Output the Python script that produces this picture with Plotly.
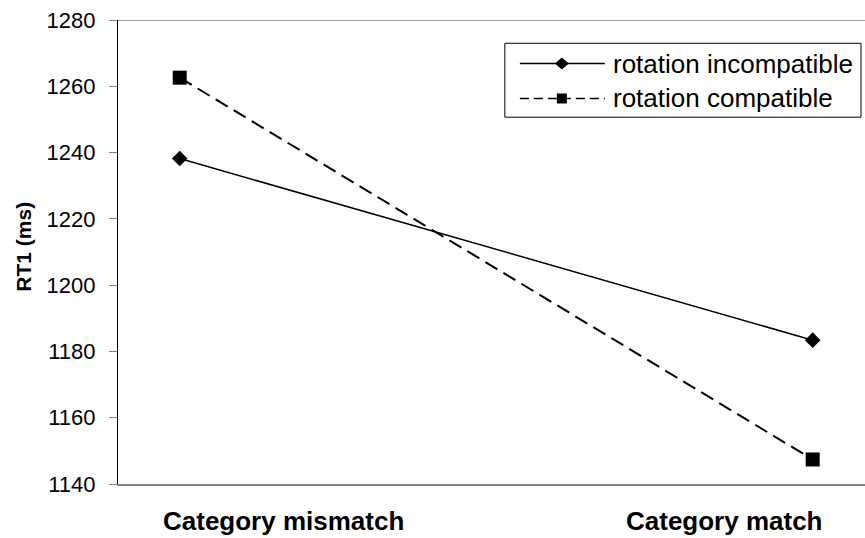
import plotly.graph_objects as go

# ---- data ----
categories = ["Category mismatch", "Category match"]
series_names = ["rotation incompatible", "rotation compatible"]
rt_incompatible = [1238.2, 1183.4]
rt_compatible = [1262.6, 1147.4]
y_ticks = [1140, 1160, 1180, 1200, 1220, 1240, 1260, 1280]

W, H = 865, 538
L, T, B = 118.3, 19.7, 484.3
PW, PH = W - L, B - T


def px(x):
    return (x - L) / PW


def py(y):
    return (B - y) / PH


FONT = "Arial, Liberation Sans, sans-serif"
xi = list(range(len(categories)))

fig = go.Figure()
fig.add_trace(go.Scatter(
    x=xi, y=rt_incompatible, name=series_names[0], mode="lines+markers",
    line=dict(color="black", width=1.5),
    marker=dict(symbol="diamond", size=12, color="black"),
    showlegend=False,
))
fig.add_trace(go.Scatter(
    x=xi, y=rt_compatible, name=series_names[1], mode="lines+markers",
    line=dict(color="black", width=2, dash="14px,7px"),
    marker=dict(symbol="square", size=14, color="black"),
    showlegend=False,
))

# x positions: category 0 at pixel 180, category 1 at 812.7
scale = 812.7 - 180
x0 = -(180 - L) / scale
x1 = x0 + PW / scale

shapes = []
# top line at 1280
shapes.append(dict(type="line", xref="paper", yref="y", x0=0, x1=1, y0=1280, y1=1280,
                   line=dict(color="#808080", width=1.3), layer="below"))
# custom legend box
shapes.append(dict(type="rect", xref="paper", yref="paper",
                   x0=px(505), x1=px(861), y0=py(117), y1=py(43),
                   line=dict(color="black", width=1), fillcolor="white"))
rows = [63.3, 98.3]
shapes.append(dict(type="line", xref="paper", yref="paper", x0=px(520), x1=px(605),
                   y0=py(rows[0]), y1=py(rows[0]), line=dict(color="black", width=1.5)))
shapes.append(dict(type="line", xref="paper", yref="paper", x0=px(520), x1=px(605),
                   y0=py(rows[1]), y1=py(rows[1]), line=dict(color="black", width=1.5, dash="9px,5px")))
shapes.append(dict(type="path", xref="paper", yref="paper", xsizemode="pixel", ysizemode="pixel",
                   xanchor=px(562), yanchor=py(rows[0]), path="M-7,0L0,6L7,0L0,-6Z",
                   fillcolor="black", line=dict(color="black", width=0)))
shapes.append(dict(type="path", xref="paper", yref="paper", xsizemode="pixel", ysizemode="pixel",
                   xanchor=px(562), yanchor=py(rows[1]), path="M-5,-5L5,-5L5,5L-5,5Z",
                   fillcolor="black", line=dict(color="black", width=0)))

annotations = []
for name, r in zip(series_names, rows):
    annotations.append(dict(text=name, xref="paper", yref="paper", x=px(611), y=py(r),
                            xanchor="left", yanchor="middle", showarrow=False,
                            font=dict(family=FONT, size=26, color="black")))
label_centers = [284, 725]
for cat, cx in zip(categories, label_centers):
    annotations.append(dict(text="<b>%s</b>" % cat, xref="paper", yref="paper", x=px(cx), y=py(521),
                            xanchor="center", yanchor="middle", showarrow=False,
                            font=dict(family=FONT, size=26, color="black")))
annotations.append(dict(text="<b>RT1 (ms)</b>", xref="paper", yref="paper", x=px(23), y=py(247),
                        xanchor="center", yanchor="middle", textangle=-90, showarrow=False,
                        font=dict(family=FONT, size=21, color="black")))

fig.update_layout(
    width=W, height=H,
    margin=dict(l=L, r=0, t=T, b=H - B, pad=0),
    paper_bgcolor="white", plot_bgcolor="white",
    showlegend=False,
    shapes=shapes, annotations=annotations,
    xaxis=dict(range=[x0, x1], showgrid=False, zeroline=False, showticklabels=False,
               ticks="", showline=True, linecolor="#808080", linewidth=1.5),
    yaxis=dict(range=[1140, 1280], tickvals=y_ticks, showgrid=False, zeroline=False,
               ticks="outside", ticklen=8, tickcolor="#808080", tickwidth=1.3,
               showline=True, linecolor="black", linewidth=1.3,
               ticklabelstandoff=9,
               tickfont=dict(family=FONT, size=22, color="black")),
)

fig.write_html("out.html")
